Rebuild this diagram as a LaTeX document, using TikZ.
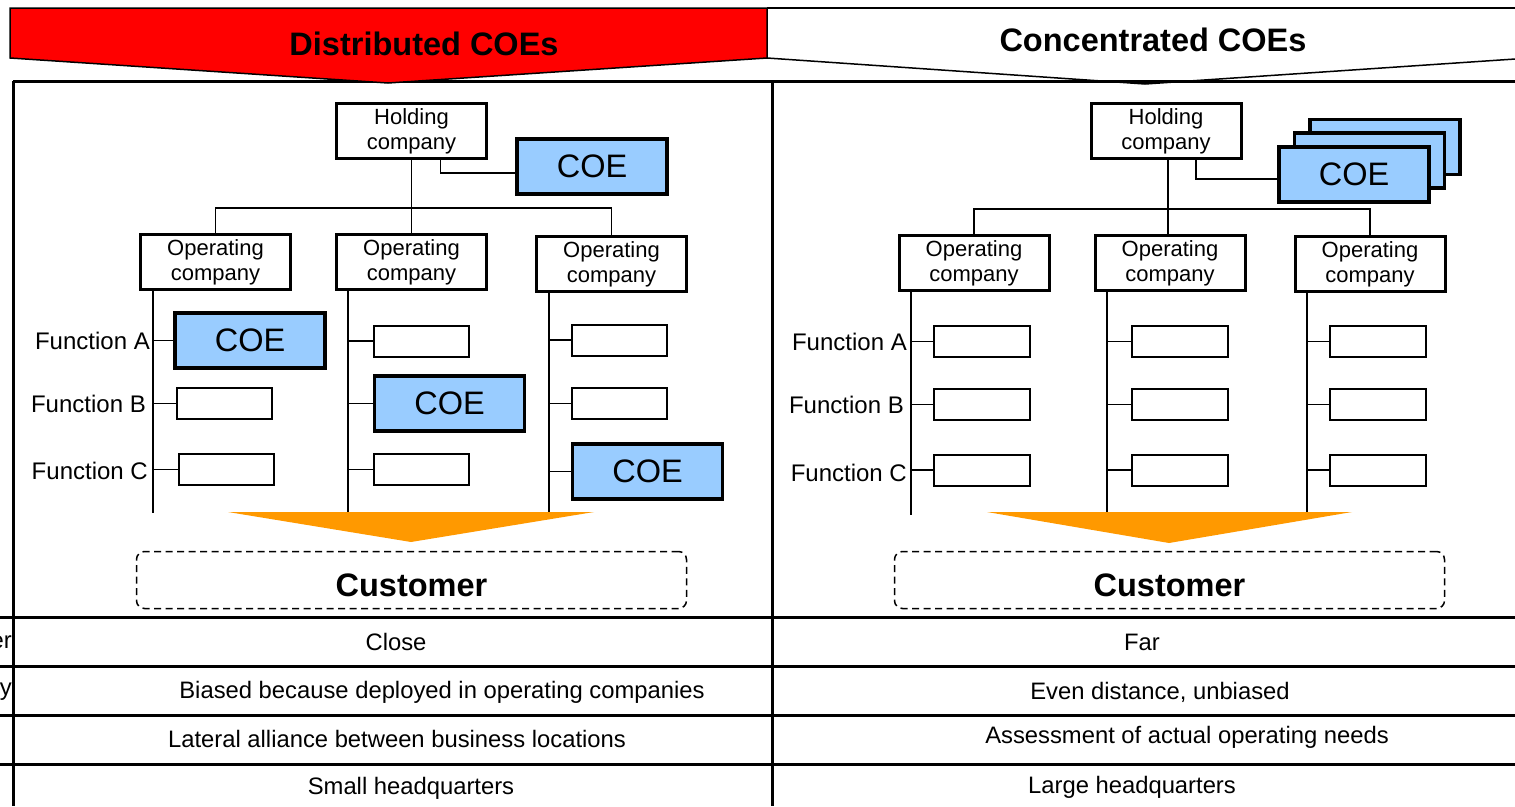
\documentclass[tikz,border=0pt]{standalone}
\usepackage{fontspec}
\setmainfont{Liberation Sans}
\definecolor{coeblue}{HTML}{99CCFF}
\definecolor{funnel}{HTML}{FF9900}
\tikzset{
  unit/.style={draw,line width=3pt,minimum width=150pt,minimum height=55pt,inner sep=0pt,align=center,font=\fontsize{22}{25}\selectfont},
  coebox/.style={unit,fill=coeblue,line width=3.5pt,font=\fontsize{32.5}{36}\selectfont},
  fnbox/.style={draw,line width=2pt,minimum width=95pt,minimum height=31pt,inner sep=0pt},
  fnlabel/.style={anchor=east,inner sep=0pt,font=\fontsize{24}{27}\selectfont},
  link/.style={line width=1.5pt},
  rule/.style={line width=3pt},
  cell/.style={inner sep=0pt,font=\fontsize{23.8}{27}\selectfont},
  customer/.style={draw,dash pattern=on 7pt off 4.5pt,line width=1.5pt,rounded corners=8pt,minimum width=550pt,minimum height=57pt,inner sep=0pt,text height=33pt,text depth=0pt,font=\bfseries\fontsize{32.5}{36}\selectfont},
  banner/.style={inner sep=0pt,font=\bfseries\fontsize{32.5}{36}\selectfont}
}
\begin{document}
\begin{tikzpicture}[x=1pt,y=-1pt]
\useasboundingbox (0,0) rectangle (1515,806);

% Frame and table rules
\draw[rule] (13,81) -- (1515,81);
\draw[rule] (13,81) -- (13,806);
\draw[rule] (772,81) -- (772,806);
\draw[rule] (0,617) -- (1515,617);
\draw[rule] (0,666) -- (1515,666);
\draw[rule] (0,715) -- (1515,715);
\draw[rule] (0,764) -- (1515,764);

% Column headers
\filldraw[fill=red,line width=1.5pt] (10,8) -- (767,8) -- (767,58) -- (388,83) -- (10,58) -- cycle;
\draw[line width=1.5pt] (767,8) -- (1530,8);
\draw[line width=1.5pt] (767,58) -- (1145,84) -- (1530,58);
\node[banner] (dist) at (424,44) {Distributed COEs};
\node[banner] (conc) at (1153,40) {Concentrated COEs};

%%%%%%%%%% Distributed COEs
% Holding company and its COE
\node[unit] (hold1) at (411.5,131) {Holding\\company};
\node[coebox] (coe1) at (592,166.5) {COE};
\draw[link] ([xshift=29pt]hold1.south) |- ([yshift=-6.5pt]coe1.west);

% Operating companies
\node[unit] (op11) at (215.5,262) {Operating\\company};
\node[unit] (op12) at (411.5,262) {Operating\\company};
\node[unit] (op13) at (611.5,264) {Operating\\company};
\coordinate (j1) at (411.5,208);
\draw[link] (hold1.south) -- (j1);
\draw[link] (op11.north) |- (j1) -| (op13.north);
\draw[link] (j1) -- (op12.north);

% Spines under the operating companies
\coordinate (s11) at (153,513);
\coordinate (s12) at (348,513);
\coordinate (s13) at (549,513);
\draw[link] (op11.south -| s11) -- (s11);
\draw[link] (op12.south -| s12) -- (s12);
\draw[link] (op13.south -| s13) -- (s13);

% Functions
\node[fnlabel] (la1) at (150,341) {Function A};
\node[fnlabel] (lb1) at (146,404) {Function B};
\node[fnlabel] (lc1) at (148,471) {Function C};

\node[coebox] (fa1) at (250,340.5) {COE};
\node[fnbox] (fb1) at (224.5,403.5) {};
\node[fnbox] (fc1) at (226.5,469.5) {};
\node[fnbox] (fa2) at (421.5,341) {};
\node[coebox] (fb2) at (449.5,403.5) {COE};
\node[fnbox] (fc2) at (421.5,469.5) {};
\node[fnbox] (fa3) at (619.5,340) {};
\node[fnbox] (fb3) at (619.5,403.5) {};
\node[coebox] (fc3) at (647.5,471.5) {COE};

\draw[link] (fa1.west) -- (fa1.west -| s11);
\draw[link] (fb1.west) -- (fb1.west -| s11);
\draw[link] (fc1.west) -- (fc1.west -| s11);
\draw[link] (fa2.west) -- (fa2.west -| s12);
\draw[link] (fb2.west) -- (fb2.west -| s12);
\draw[link] (fc2.west) -- (fc2.west -| s12);
\draw[link] (fa3.west) -- (fa3.west -| s13);
\draw[link] (fb3.west) -- (fb3.west -| s13);
\draw[link] (fc3.west) -- (fc3.west -| s13);

% Towards the customer
\fill[funnel] (228,512) -- (594,512) -- (411,542) -- cycle;
\node[customer] (cust1) at (411.5,580) {Customer};

%%%%%%%%%% Concentrated COEs
% Holding company and the stack of COEs
\node[unit] (hold2) at (1166,131) {Holding\\company};
\node[coebox] (coe2c) at (1385,147) {};
\node[coebox] (coe2b) at (1369.5,160.5) {};
\node[coebox] (coe2a) at (1354,174.5) {COE};
\draw[link] ([xshift=30pt]hold2.south) |- ([yshift=-4.5pt]coe2a.west);

% Operating companies
\node[unit] (op21) at (974,263) {Operating\\company};
\node[unit] (op22) at (1170,263) {Operating\\company};
\node[unit] (op23) at (1370,264) {Operating\\company};
\coordinate (j2) at (1168,209);
\draw[link] (hold2.south -| j2) -- (j2);
\draw[link] (op21.north) |- (j2) -| (op23.north);
\draw[link] (j2) -- (op22.north -| j2);

% Spines under the operating companies
\coordinate (s21) at (911,515);
\coordinate (s22) at (1107,515);
\coordinate (s23) at (1307,515);
\draw[link] (op21.south -| s21) -- (s21);
\draw[link] (op22.south -| s22) -- (s22);
\draw[link] (op23.south -| s23) -- (s23);

% Functions
\node[fnlabel] (la2) at (907,342) {Function A};
\node[fnlabel] (lb2) at (904,405) {Function B};
\node[fnlabel] (lc2) at (907,473) {Function C};

\foreach \c/\x in {1/982,2/1180,3/1378}{
  \node[fnbox,minimum width=96pt] (ga\c) at (\x,341.5) {};
  \node[fnbox,minimum width=96pt] (gb\c) at (\x,404.5) {};
  \node[fnbox,minimum width=96pt] (gc\c) at (\x,470) {};
  \draw[link] (ga\c.west) -- (ga\c.west -| s2\c);
  \draw[link] (gb\c.west) -- (gb\c.west -| s2\c);
  \draw[link] (gc\c.west) -- (gc\c.west -| s2\c);
}

% Towards the customer
\fill[funnel] (987,512) -- (1352,512) -- (1169,543) -- cycle;
\node[customer] (cust2) at (1169.5,580) {Customer};

%%%%%%%%%% Comparison rows
\node[cell,anchor=east] (k1) at (12,642) {er};
\node[cell,anchor=east] (k2) at (12,692) {y};
\node[cell] (r1l) at (396,642) {Close};
\node[cell] (r1r) at (1142,642) {Far};
\node[cell] (r2l) at (442,692) {Biased because deployed in operating companies};
\node[cell] (r2r) at (1160,692) {Even distance, unbiased};
\node[cell] (r3l) at (397,739) {Lateral alliance between business locations};
\node[cell] (r3r) at (1187,737) {Assessment of actual operating needs};
\node[cell] (r4l) at (411,788) {Small headquarters};
\node[cell] (r4r) at (1132,787) {Large headquarters};

\end{tikzpicture}
\end{document}
